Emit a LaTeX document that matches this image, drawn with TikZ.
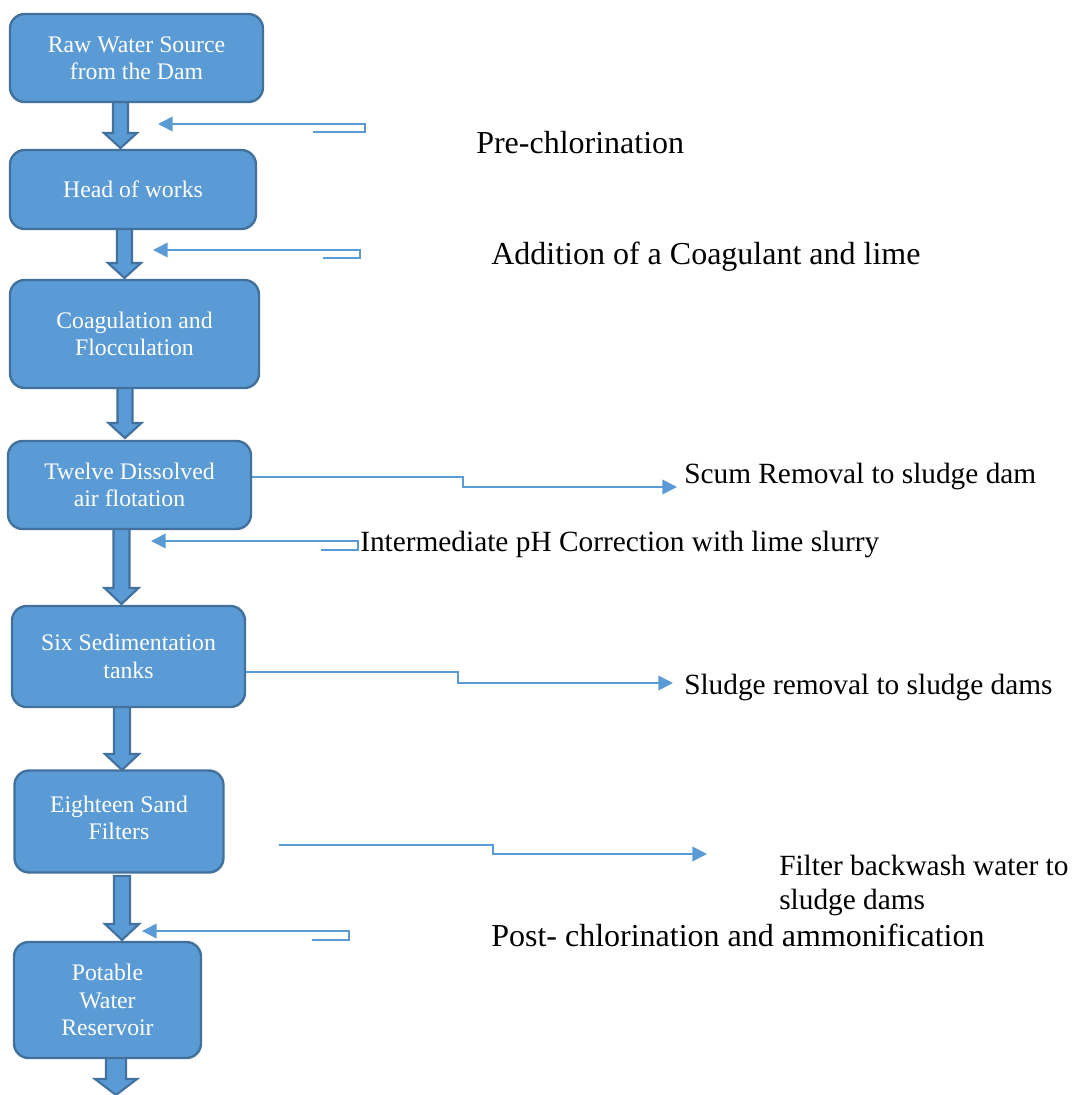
\documentclass[tikz,border=0pt]{standalone}
\usepackage{fontspec}
\setmainfont{LiberationSerif}[Extension=.ttf, UprightFont=*-Regular, BoldFont=*-Bold]
\usetikzlibrary{arrows.meta,calc}

\definecolor{boxfill}{HTML}{5B9BD5}
\definecolor{boxline}{HTML}{41719C}
\definecolor{flowline}{HTML}{5B9BD5}

\tikzset{
  stage/.style 2 args={draw=boxline, line width=1.8pt, fill=boxfill,
    rounded corners=11pt, inner sep=0pt, align=center, text=white,
    minimum width=#1*0.75pt, minimum height=#2*0.75pt,
    font=\fontsize{17.8}{20.5}\selectfont},
  bigarrow/.style={draw=boxline, line width=1.6pt, fill=boxfill, line join=miter},
  feed/.style={draw=flowline, line width=1.2pt,
    -{Triangle[length=11pt,width=11pt]}},
  biglabel/.style={anchor=base west, inner sep=0pt, font=\fontsize{24}{28}\selectfont},
  smalllabel/.style={anchor=base west, inner sep=0pt, font=\fontsize{22}{26}\selectfont},
}

% thick down arrow between stages: x, top y, tip y, shaft half-width, head half-width, head length
\newcommand\flowarrow[6]{%
  \draw[bigarrow] ({#1-#4},#2) -- ({#1+#4},#2) -- ({#1+#4},{#3-#6}) -- ({#1+#5},{#3-#6})
    -- (#1,#3) -- ({#1-#5},{#3-#6}) -- ({#1-#4},{#3-#6}) -- cycle;}

\begin{document}
\begin{tikzpicture}[x=0.75pt,y=-0.75pt]
\useasboundingbox (0,0) rectangle (1072,1095);

% block arrows (drawn first so stage boxes sit on top)
\flowarrow{120.5}{97}{148}{7.5}{16.5}{15}
\flowarrow{124.5}{226}{278}{7.5}{16.5}{15}
\flowarrow{125}{385}{438}{7.5}{16.5}{15}
\flowarrow{121.5}{526}{604}{8}{17}{16}
\flowarrow{122}{704}{770}{8}{17}{16}
\flowarrow{122}{876}{940}{8}{17}{16}
\flowarrow{116}{1048}{1095}{10}{21}{16}

% treatment stages
\node[stage={253}{88}]  (raw)  at (136.5,58)  {Raw Water Source\\from the Dam};
\node[stage={246}{79}]  (head) at (133,189.5) {Head of works};
\node[stage={249}{108}] (coag) at (134.5,334) {Coagulation and\\Flocculation};
\node[stage={243}{88}]  (daf)  at (129.5,485) {Twelve Dissolved\\air flotation};
\node[stage={233}{101}] (sed)  at (128.5,656.5) {Six Sedimentation\\tanks};
\node[stage={209}{102}, text depth=6pt] (sand) at (119,821.5) {Eighteen Sand\\Filters};
\node[stage={187}{116}] (res)  at (107.5,1000) {Potable\\Water\\Reservoir};

% chemical dosing points
\coordinate (pc0) at (313,132); \coordinate (pc1) at (158,124);
\draw[feed] (pc0) -- (365,132) -- (365,124) -- (pc1);
\coordinate (cg0) at (323,258); \coordinate (cg1) at (153,250);
\draw[feed] (cg0) -- (360,258) -- (360,250) -- (cg1);
\coordinate (ph0) at (321,550); \coordinate (ph1) at (151,541);
\draw[feed] (ph0) -- (358,550) -- (358,541) -- (ph1);
\coordinate (po0) at (312,940); \coordinate (po1) at (142,931);
\draw[feed] (po0) -- (349,940) -- (349,931) -- (po1);

% waste streams
\coordinate (scum) at (677,487);
\draw[feed] ($(daf.east)+(0,-8)$) -- (463,477) -- (463,487) -- (scum);
\coordinate (sludge) at (673,683);
\draw[feed] ($(sed.east)+(0,15.5)$) -- (458,672) -- (458,683) -- (sludge);
\coordinate (bw0) at (279,845); \coordinate (bw1) at (707,854);
\draw[feed] (bw0) -- (493,845) -- (493,854) -- (bw1);

% labels
\node[biglabel] (lpc) at (476,154) {Pre-chlorination};
\node[biglabel] (lcg) at (491,264) {Addition of a Coagulant and lime};
\node[smalllabel] (lsc) at (684,483) {Scum Removal to sludge dam};
\node[smalllabel] (lph) at (360,551) {Intermediate pH Correction with lime slurry};
\node[smalllabel] (lsl) at (684,694) {Sludge removal to sludge dams};
\node[smalllabel] (lbw) at (779,875) {Filter backwash water to};
\node[smalllabel] (lbw2) at (779,909) {sludge dams};
\node[biglabel] (lpo) at (491,946) {Post- chlorination and ammonification};
\end{tikzpicture}
\end{document}
